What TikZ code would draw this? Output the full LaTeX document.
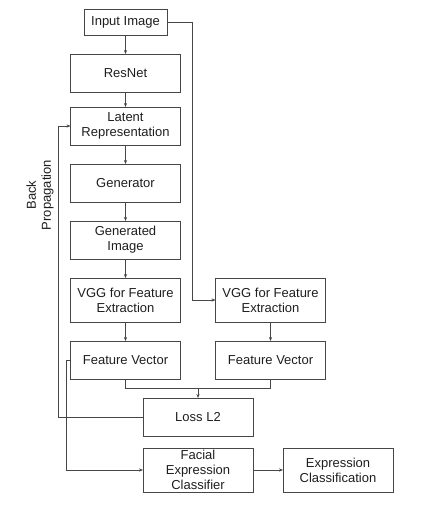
\documentclass[tikz,border=0pt]{standalone}
\usepackage{fontspec}
\setmainfont{Liberation Sans}
\usepackage{tikz}
\usetikzlibrary{arrows.meta,positioning,calc}
\definecolor{linegray}{RGB}{70,70,70}
\definecolor{textgray}{RGB}{30,30,30}
\tikzset{
  stagebox/.style={draw=linegray, line width=0.8pt, align=center,
                   minimum width=110pt, minimum height=38pt,
                   font=\fontsize{13}{15}\selectfont, text=textgray,
                   inner xsep=3pt, inner ysep=0pt, outer sep=0pt},
  inbox/.style   ={stagebox, minimum width=83pt, minimum height=26pt},
  vggbox/.style  ={stagebox, minimum height=44pt},
  arr/.style     ={-{Stealth[length=4pt,width=3.2pt]}, draw=linegray, line width=0.8pt},
  plain/.style   ={draw=linegray, line width=0.8pt},
}

\begin{document}
\begin{tikzpicture}[x=1pt,y=-1pt]
  \useasboundingbox (0,0) rectangle (425,510);
  % generation branch
  \node[inbox] (input) at (125.5,22) {Input Image};
  \node[stagebox, below=19pt of input] (resnet) {ResNet};
  \node[stagebox, below=15pt of resnet] (latent) {Latent\\Representation};
  \node[stagebox, below=19pt of latent] (gen) {Generator};
  \node[stagebox, below=19pt of gen] (genimg) {Generated\\Image};
  \node[vggbox, below=19pt of genimg] (vggl) {VGG for Feature\\Extraction};
  \node[stagebox, below=19pt of vggl] (fvl) {Feature Vector};
  % reference branch
  \node[vggbox, right=35pt of vggl] (vggr) {VGG for Feature\\Extraction};
  \node[stagebox, right=35pt of fvl] (fvr) {Feature Vector};
  % loss and classifier
  \node[stagebox, below=19pt of $(fvl.south)!0.5!(fvr.south)$] (loss) {Loss L2};
  \node[vggbox, below=12pt of loss] (fec) {Facial\\Expression\\Classifier};
  \node[vggbox, right=30pt of fec] (expcls) {Expression\\Classification};
  \node[rotate=90, align=center, font=\fontsize{13}{15}\selectfont, text=textgray]
    (bplabel) at (40,195) {Back\\Propagation};

  \draw[arr] (input) -- (resnet);
  \draw[arr] (resnet) -- (latent);
  \draw[arr] (latent) -- (gen);
  \draw[arr] (gen) -- (genimg);
  \draw[arr] (genimg) -- (vggl);
  \draw[arr] (vggl) -- (fvl);
  \draw[arr] (vggr) -- (fvr);
  \draw[arr] (input.east) -- ++(25,0) |- (vggr.west);
  \draw[plain] (fvl.south) -- ++(0,9) -| (fvr.south);
  \draw[arr] (fvl.south) ++(0,9) -| (loss.north);
  \draw[arr] (loss.west) -- ++(-85,0) |- (latent.west);
  \draw[arr] (fvl.west) -- ++(-4,0) |- (fec.west);
  \draw[arr] (fec) -- (expcls);
\end{tikzpicture}
\end{document}
